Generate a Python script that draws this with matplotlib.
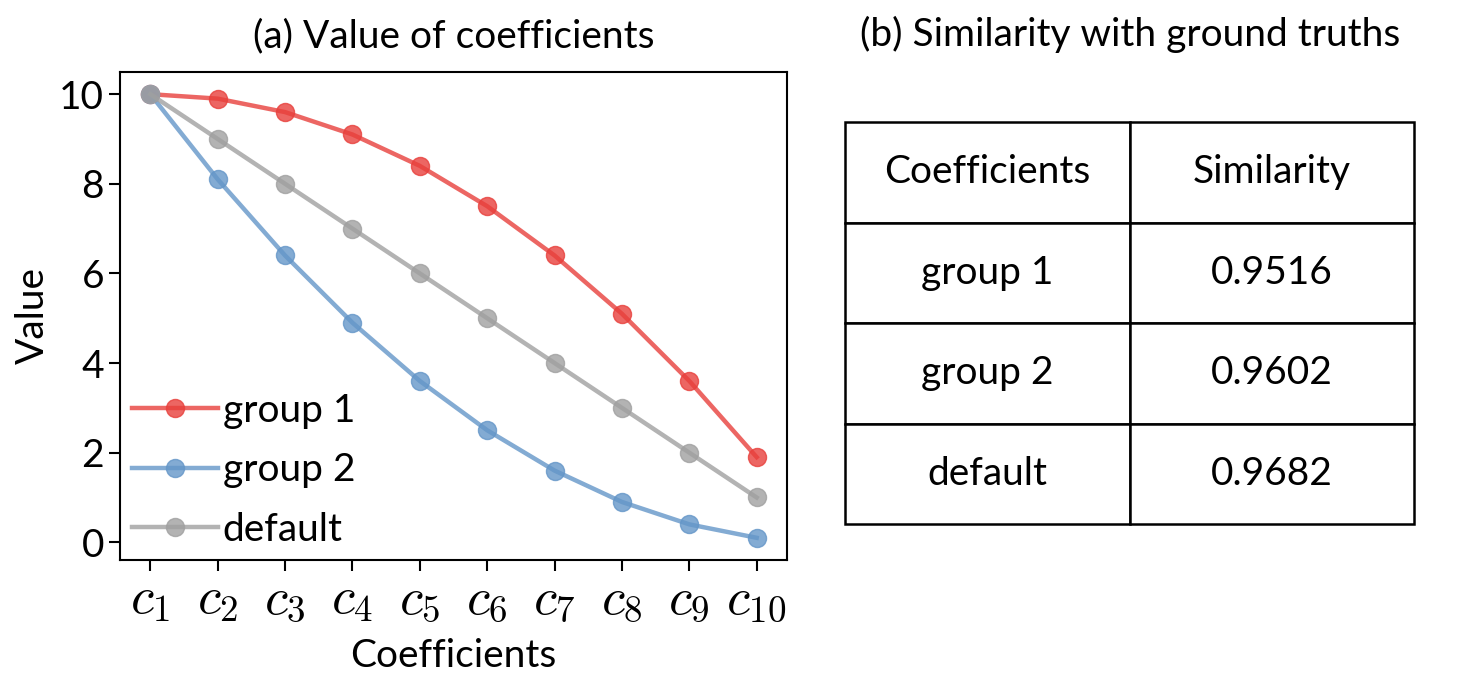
import matplotlib
matplotlib.use('Agg')
import matplotlib.pyplot as plt

# ============ 数据 ============
coef_labels = [r'$c_{%d}$' % i for i in range(1, 11)]
x_pos = list(range(1, 11))
group1 = [10, 9.9, 9.6, 9.1, 8.4, 7.5, 6.4, 5.1, 3.6, 1.9]
group2 = [10, 8.1, 6.4, 4.9, 3.6, 2.5, 1.6, 0.9, 0.4, 0.1]
default = [10, 9, 8, 7, 6, 5, 4, 3, 2, 1]

table_header = ['Coefficients', 'Similarity']
table_rows = ['group 1', 'group 2', 'default']
table_sims = ['0.9516', '0.9602', '0.9682']

plt.rcParams['font.family'] = ['Lato', 'DejaVu Sans']
plt.rcParams['mathtext.fontset'] = 'cm'

FS = 28

fig = plt.figure(figsize=(14.76, 6.81), dpi=100)

# ============ (a) 折线图 ============
ax = fig.add_axes([0.0813, 0.1777, 0.4519, 0.7166])
ax.plot(x_pos, group1, 'o-', color='#E8403C', alpha=0.8, lw=3.2, ms=13, label='group 1')
ax.plot(x_pos, group2, 'o-', color='#6496C8', alpha=0.8, lw=3.2, ms=13, label='group 2')
ax.plot(x_pos, default, 'o-', color='#A0A0A0', alpha=0.8, lw=3.2, ms=13, label='default')

ax.set_xticks(x_pos)
ax.set_xticklabels(coef_labels, fontsize=38)
ax.set_yticks([0, 2, 4, 6, 8, 10])
ax.tick_params(axis='y', labelsize=FS, length=8, width=1.5)
ax.tick_params(axis='x', length=8, width=1.5, pad=4)
for s in ax.spines.values():
    s.set_linewidth(1.5)
ax.set_xlabel('Coefficients', fontsize=FS, labelpad=10)
ax.set_ylabel('Value', fontsize=FS, labelpad=6)
ax.set_title('(a) Value of coefficients', fontsize=FS, pad=18)
ax.legend(loc='lower left', frameon=False, fontsize=FS, handlelength=2.2,
          handletextpad=0.12, labelspacing=0.6, borderaxespad=0.22,
          borderpad=0.1)

# ============ (b) 表格 ============
ax2 = fig.add_axes([0.5725, 0.2305, 0.3855, 0.5903])
ax2.axis('off')
cells = [[r, s] for r, s in zip(table_rows, table_sims)]
tbl = ax2.table(cellText=cells, colLabels=table_header, cellLoc='center',
                bbox=[0, 0, 1, 1])
tbl.auto_set_font_size(False)
tbl.set_fontsize(FS)
for cell in tbl.get_celld().values():
    cell.set_linewidth(1.8)
fig.text(0.7660, 0.949, '(b) Similarity with ground truths', fontsize=FS,
         ha='center', va='center')

plt.savefig('out.png', dpi=100)
plt.close()
